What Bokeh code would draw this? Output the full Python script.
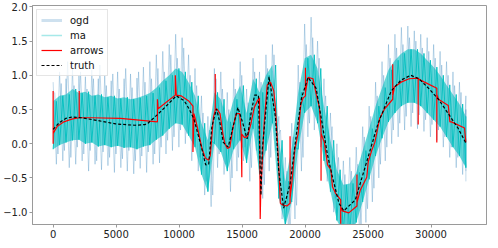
from bokeh.plotting import figure
from bokeh.models import Range1d, FixedTicker, Legend, LegendItem, CustomJSTickFormatter
from bokeh.embed import file_html
from bokeh.resources import INLINE

# sample grid of the noisy series (every 512 samples)
x_env = list(range(0, 32769, 512))

ma_hi = [0.62, 0.70, 0.72, 0.80, 0.74, 0.76, 0.70, 0.72, 0.68, 0.70,
         0.66, 0.68, 0.65, 0.67, 0.70, 0.74, 0.82, 0.92, 1.00, 1.10,
         1.05, 0.90, 0.70, 0.30, 0.05, 0.75, 0.65, 0.32, 0.65, 0.85,
         0.45, 0.95, 0.75, 1.00, 1.15, 0.05, -0.55, -0.05, 0.75, 1.25,
         1.30, 1.10, 0.55, 0.05, -0.38, -0.60, -0.58, -0.42, -0.10, 0.22,
         0.55, 0.82, 1.08, 1.22, 1.32, 1.38, 1.38, 1.32, 1.22, 1.12,
         1.00, 0.86, 0.72, 0.58, 0.40]
ma_lo = [-0.08, -0.02, 0.02, 0.05, 0.06, 0.00, 0.02, -0.04, -0.02, -0.05,
         -0.03, -0.06, -0.05, -0.08, -0.04, -0.02, 0.06, 0.12, 0.22, 0.30,
         0.28, 0.12, -0.05, -0.45, -0.70, 0.00, -0.12, -0.40, -0.08, 0.05,
         -0.28, 0.22, -0.45, -0.10, 0.30, -0.80, -1.20, -0.85, -0.08, 0.45,
         0.55, 0.30, -0.25, -0.70, -1.12, -1.30, -1.30, -1.15, -0.85, -0.52,
         -0.18, 0.08, 0.32, 0.45, 0.55, 0.60, 0.60, 0.55, 0.45, 0.35,
         0.25, 0.10, -0.05, -0.18, -0.35]
ogd_hi = [0.90, 1.05, 0.95, 1.10, 1.00, 0.98, 1.08, 0.95, 1.00, 0.92,
          1.05, 0.95, 1.02, 0.96, 1.12, 1.20, 1.30, 1.35, 1.45, 1.60,
          1.55, 1.30, 1.10, 0.70, 0.40, 1.10, 1.05, 0.75, 0.95, 1.20,
          0.80, 1.25, 1.05, 1.30, 1.45, 0.40, -0.20, 0.30, 1.15, 1.75,
          1.85, 1.50, 0.95, 0.45, 0.00, -0.25, -0.20, -0.05, 0.25, 0.55,
          0.90, 1.20, 1.45, 1.60, 1.70, 1.72, 1.65, 1.60, 1.55, 1.45,
          1.35, 1.20, 1.05, 0.90, 0.70]
ogd_lo = [-0.30, -0.25, -0.35, -0.30, -0.25, -0.40, -0.30, -0.38, -0.32, -0.42,
          -0.35, -0.40, -0.44, -0.36, -0.42, -0.30, -0.28, -0.15, -0.10, -0.05,
          0.00, -0.25, -0.40, -0.75, -0.92, -0.35, -0.45, -0.70, -0.40, -0.25,
          -0.55, -0.10, -0.80, -0.40, -0.10, -1.10, -1.30, -1.10, -0.40, 0.10,
          0.20, -0.05, -0.55, -1.00, -1.30, -1.40, -1.40, -1.35, -1.15, -0.85,
          -0.50, -0.25, 0.00, 0.10, 0.20, 0.25, 0.22, 0.18, 0.10, 0.05,
          -0.05, -0.20, -0.35, -0.45, -0.55]
ogd_hi2 = [0.75, 0.88, 1.20, 0.85, 1.05, 0.80, 0.95, 1.15, 0.85, 1.02,
           0.80, 1.10, 0.82, 1.05, 0.90, 0.95, 1.10, 1.05, 1.30, 1.25,
           1.40, 1.00, 0.85, 0.45, 0.20, 0.95, 0.80, 0.50, 0.80, 1.00,
           0.60, 1.05, 0.90, 1.10, 1.30, 0.20, -0.40, 0.10, 0.90, 1.45,
           1.55, 1.25, 0.70, 0.25, -0.20, -0.45, -0.40, -0.30, 0.10, 0.40,
           0.70, 1.00, 1.25, 1.40, 1.45, 1.55, 1.50, 1.40, 1.35, 1.25,
           1.15, 1.00, 0.85, 0.75, 0.50]
ogd_lo2 = [-0.15, -0.10, -0.20, -0.05, -0.15, -0.10, -0.25, -0.12, -0.20, -0.15,
           -0.22, -0.10, -0.25, -0.18, -0.12, -0.15, -0.05, 0.05, 0.10, 0.20,
           0.15, 0.00, -0.20, -0.55, -0.75, -0.15, -0.30, -0.50, -0.20, -0.05,
           -0.35, 0.05, -0.60, -0.20, 0.10, -0.90, -1.25, -0.90, -0.20, 0.30,
           0.40, 0.10, -0.35, -0.80, -1.20, -1.35, -1.35, -1.20, -0.95, -0.65,
           -0.30, -0.05, 0.20, 0.30, 0.40, 0.45, 0.42, 0.35, 0.28, 0.20,
           0.10, -0.05, -0.20, -0.30, -0.40]

truth_x = [0, 500, 1000, 1475, 2250, 3500, 4970, 6500, 7300, 7530,
           8310, 9080, 9780, 10400, 10790, 11180, 11800, 12110, 12350, 12600,
           12970, 13250, 13510, 13900, 14290, 14670, 15060, 15400, 15710, 15990,
           16300, 16400, 16500, 16610, 17140, 17650, 17910, 18300, 18810, 19330,
           19720, 20240, 20880, 21270, 21790, 22180, 22690, 23080, 23990, 24900,
           25800, 26840, 27620, 28390, 29040, 29810, 30590, 31370, 32140, 32767]
truth_y = [0.21, 0.31, 0.37, 0.39, 0.38, 0.34, 0.29, 0.27, 0.28, 0.30,
           0.43, 0.57, 0.70, 0.63, 0.51, 0.36, -0.07, -0.31, -0.30, 0.25,
           0.51, 0.30, 0.02, -0.05, 0.25, 0.53, 0.30, 0.07, 0.44, 0.71,
           0.71, -0.10, -0.75, -0.07, 0.98, 0.39, -0.40, -0.94, -0.59, 0.16,
           0.67, 0.97, 0.81, 0.39, -0.17, -0.49, -0.87, -0.98, -0.82, -0.26,
           0.30, 0.77, 0.93, 1.00, 0.95, 0.81, 0.65, 0.44, 0.23, 0.01]

arrows_x = [0, 0, 0, 310, 850, 1475, 2070, 2070, 2070, 3030,
            5360, 8280, 8280, 8330, 9700, 9700, 9780, 10150, 10790, 11100,
            11100, 11180, 11440, 11820, 12090, 12340, 12480, 12600, 12730, 12870,
            12870, 12870, 12990, 13250, 13510, 13640, 13840, 14030, 14290, 14540,
            14810, 14930, 14980, 14980, 15190, 15450, 15710, 15970, 16230, 16380,
            16440, 16480, 16750, 17000, 17260, 17520, 17650, 17910, 18040, 18170,
            18560, 18810, 18810, 18810, 18940, 19200, 19460, 19670, 19850, 20030,
            20030, 20030, 20240, 20630, 20890, 21140, 21270, 21270, 21270, 21530,
            21790, 22050, 22180, 22440, 22830, 22830, 22830, 22960, 23470, 24120,
            24120, 24120, 24380, 24900, 25020, 25290, 25540, 25930, 26320, 26960,
            26960, 26960, 27100, 27620, 28260, 28980, 28980, 28980, 29170, 30460,
            30460, 30460, 30590, 31370, 31500, 31620, 32660, 32767]
arrows_y = [0.0, 0.77, 0.15, 0.25, 0.32, 0.36, 0.38, 0.77, 0.38, 0.38,
            0.37, 0.32, 0.65, 0.51, 0.71, 1.0, 0.71, 0.70, 0.62, 0.55,
            -0.12, 0.44, 0.25, -0.07, -0.21, -0.24, -0.17, 0.11, 0.39, 0.49,
            1.02, 0.49, 0.51, 0.44, 0.11, 0.0, -0.07, -0.05, 0.25, 0.44,
            0.44, 0.16, -0.49, 0.14, 0.09, 0.11, 0.30, 0.53, 0.63, 0.67,
            -1.1, -0.73, 0.30, 0.86, 0.90, 0.77, 0.53, -0.31, -0.87, -0.89,
            -0.91, -0.87, 0.11, -0.80, -0.59, -0.07, 0.16, 0.58, 0.67, 0.70,
            1.11, 0.75, 0.97, 0.95, 0.72, 0.53, 0.21, -0.54, 0.15, 0.02,
            -0.31, -0.38, -0.63, -0.73, -0.82, -1.17, -0.92, -0.98, -1.01, -0.91,
            -0.45, -0.86, -0.68, -0.49, -0.26, -0.10, 0.02, 0.37, 0.51, 0.65,
            1.16, 0.70, 0.83, 0.90, 0.95, 0.96, 0.28, 0.95, 0.93, 0.81,
            0.02, 0.72, 0.65, 0.56, 0.32, 0.32, 0.23, 0.02]

x_ticks = [0, 5000, 10000, 15000, 20000, 25000, 30000]
y_ticks = [-1.0, -0.5, 0.0, 0.5, 1.0, 1.5, 2.0]

# zig-zag paths through the read envelopes
step = x_env[1] - x_env[0]
last = x_env[-1]


def zigzag(first, second, offset):
    xs, ys = [], []
    for i, xv in enumerate(x_env):
        xs += [min(xv + offset, last), min(xv + offset + step / 2, last)]
        ys += [first[i], second[i]]
    return xs, ys


ogd_x, ogd_y = zigzag(ogd_hi, ogd_lo, 0)
ogd2_x, ogd2_y = zigzag(ogd_hi2, ogd_lo2, step / 4)
ma_x, ma_y = zigzag(ma_lo, ma_hi, 0)

p = figure(width=490, height=240, output_backend="svg", toolbar_location=None,
           x_range=Range1d(-1638, 34405), y_range=Range1d(-1.18, 2.02),
           min_border_top=5, min_border_right=4)
p.xgrid.visible = False
p.ygrid.visible = False
p.outline_line_color = "#9a9a9a"
p.background_fill_color = "white"

ogd_r = p.line(ogd_x, ogd_y, line_color="#1f77b4", line_alpha=0.3, line_width=0.9)
p.line(ogd2_x, ogd2_y, line_color="#1f77b4", line_alpha=0.3, line_width=0.9)
p.varea(x=x_env, y1=ma_lo, y2=ma_hi, fill_color="#00bfbf", fill_alpha=0.6)
ma_r = p.line(ma_x, ma_y, line_color="#00bfbf", line_alpha=0.9, line_width=1)
arr_r = p.line(arrows_x, arrows_y, line_color="#ff0000", line_width=1.2)
truth_r = p.line(truth_x, truth_y, line_color="black", line_width=1.2, line_dash="3 2")

# legend-only glyphs (a single NaN point, never visible in the plot)
nan = float("nan")
ogd_leg = p.line(x=[nan], y=[nan], line_color="#1f77b4", line_alpha=0.22, line_width=3)
ma_leg = p.line(x=[nan], y=[nan], line_color="#00bfbf", line_alpha=0.35, line_width=1.5)

legend = Legend(items=[LegendItem(label="ogd", renderers=[ogd_leg]),
                       LegendItem(label="ma", renderers=[ma_leg]),
                       LegendItem(label="arrows", renderers=[arr_r]),
                       LegendItem(label="truth", renderers=[truth_r])],
                location="top_left")
legend.margin = 4
legend.padding = 4
legend.spacing = 3
legend.label_height = 12
legend.glyph_height = 12
legend.glyph_width = 21
legend.label_standoff = 8
legend.label_text_font = "DejaVu Sans"
legend.label_text_font_size = "10px"
legend.label_text_color = "#111111"
legend.border_line_color = "#cccccc"
legend.background_fill_alpha = 0.8
p.add_layout(legend)

for ax in (p.xaxis[0], p.yaxis[0]):
    ax.axis_line_color = "#9a9a9a"
    ax.major_tick_line_color = "#9a9a9a"
    ax.major_tick_out = 3
    ax.major_tick_in = 0
    ax.minor_tick_line_color = None
    ax.major_label_text_font = "DejaVu Sans"
    ax.major_label_text_font_size = "10px"
    ax.major_label_text_color = "#222222"
    ax.major_label_standoff = 2

p.xaxis.ticker = FixedTicker(ticks=x_ticks)
p.yaxis.ticker = FixedTicker(ticks=y_ticks)
p.xaxis.formatter = CustomJSTickFormatter(code="return tick.toFixed(0);")
p.yaxis.formatter = CustomJSTickFormatter(code="return tick.toFixed(1).replace('-', '\u2212');")

open("out.html", "w").write(file_html(p, INLINE))
